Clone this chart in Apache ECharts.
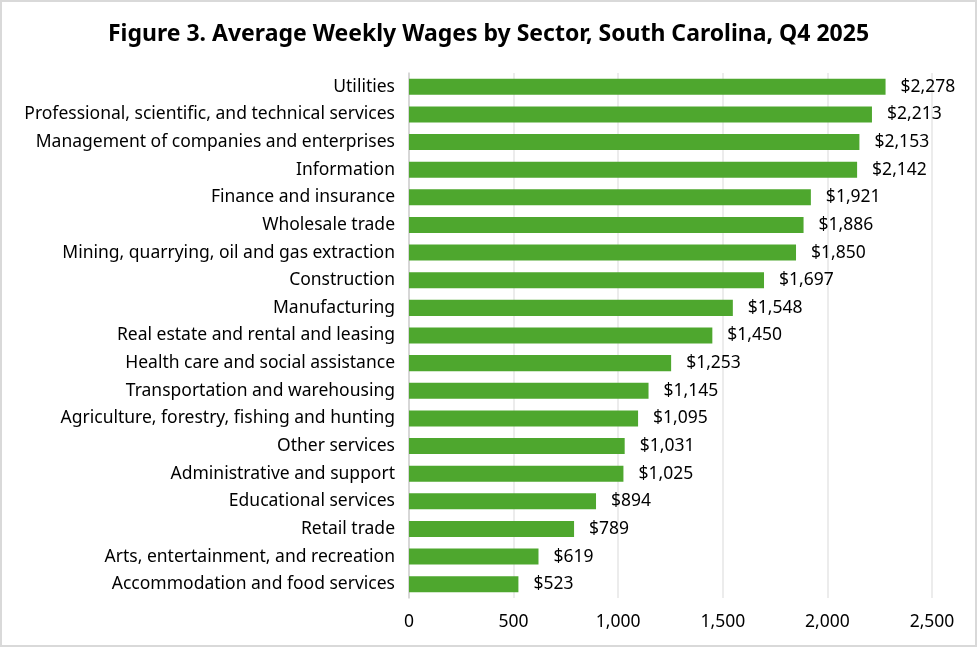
<!DOCTYPE html>
<html>
<head>
<meta charset="utf-8">
<script src="https://cdn.jsdelivr.net/npm/echarts@6/dist/echarts.min.js"></script>
<style>
html,body{margin:0;padding:0;background:#fff;}
#container{width:977px;height:647px;box-sizing:border-box;border:2px solid #d9d9d9;}
</style>
</head>
<body>
<div id="container"></div>
<script>
// sectors, bottom to top as drawn by the category axis
var sectors = [
	'Accommodation and food services',
	'Arts, entertainment, and recreation',
	'Retail trade',
	'Educational services',
	'Administrative and support',
	'Other services',
	'Agriculture, forestry, fishing and hunting',
	'Transportation and warehousing',
	'Health care and social assistance',
	'Real estate and rental and leasing',
	'Manufacturing',
	'Construction',
	'Mining, quarrying, oil and gas extraction',
	'Wholesale trade',
	'Finance and insurance',
	'Information',
	'Management of companies and enterprises',
	'Professional, scientific, and technical services',
	'Utilities'
];
var wages = [523, 619, 789, 894, 1025, 1031, 1095, 1145, 1253, 1450, 1548, 1697, 1850, 1886, 1921, 2142, 2153, 2213, 2278];
var xTicks = [0, 500, 1000, 1500, 2000, 2500];

var dom = document.getElementById('container');
var myChart = echarts.init(dom);
var font = '"Noto Sans", "Open Sans", sans-serif';

var option = {
	animation: false,
	title: {
		text: 'Figure 3. Average Weekly Wages by Sector, South Carolina, Q4 2025',
		left: 'center',
		top: 16,
		textStyle: {color: '#000', fontSize: 23, fontWeight: 'bold', fontFamily: font}
	},
	grid: {left: 407, right: 43, top: 71, bottom: 47, containLabel: false},
	xAxis: {
		type: 'value',
		min: xTicks[0],
		max: xTicks[xTicks.length - 1],
		interval: 500,
		axisLine: {show: false},
		axisTick: {show: false},
		splitLine: {lineStyle: {color: '#e6e6e6', width: 1.5}},
		axisLabel: {
			color: '#000', fontSize: 17.5, fontFamily: font, margin: 15,
			formatter: function (v) { return v.toLocaleString('en-US'); }
		}
	},
	yAxis: {
		type: 'category',
		data: sectors,
		axisLine: {lineStyle: {color: '#d0d0d0', width: 1.5}},
		axisTick: {show: false},
		axisLabel: {color: '#000', fontSize: 17.5, fontFamily: font, margin: 14}
	},
	series: [{
		type: 'bar',
		data: wages,
		barWidth: '58%',
		itemStyle: {color: '#4EA72E'},
		label: {
			show: true,
			position: 'right',
			distance: 15,
			color: '#000',
			fontSize: 17.5,
			fontFamily: font,
			formatter: function (p) { return '$' + p.value.toLocaleString('en-US'); }
		}
	}]
};
myChart.setOption(option, true);
</script>
</body>
</html>
